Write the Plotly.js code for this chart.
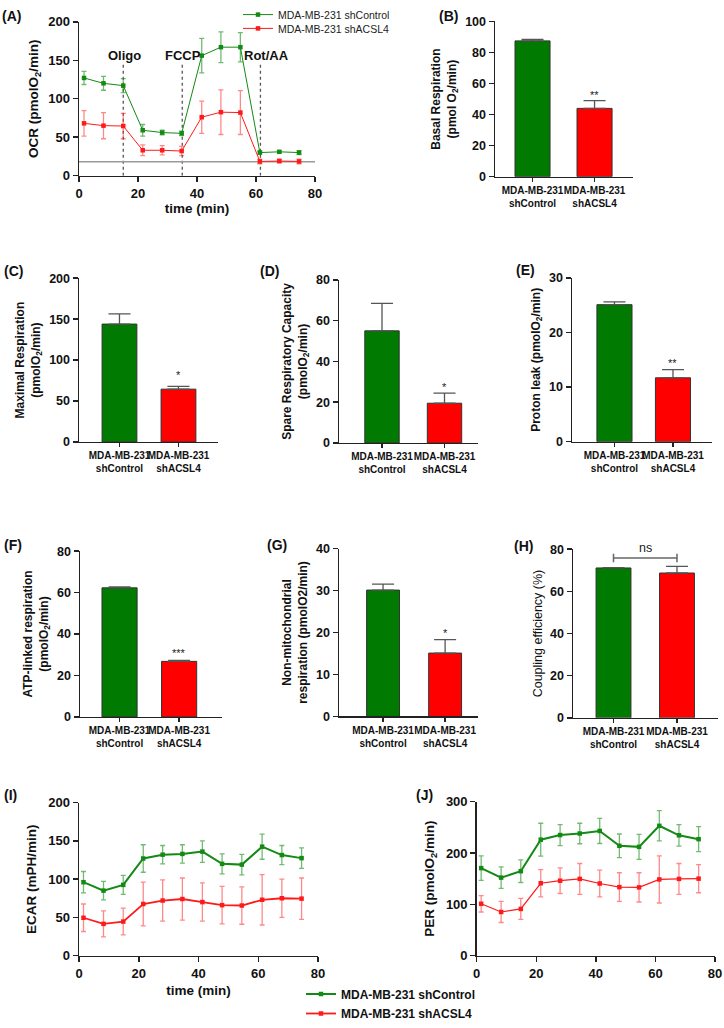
<!DOCTYPE html>
<html>
<head>
<meta charset="utf-8">
<script src="https://cdn.plot.ly/plotly-3.0.1.min.js"></script>
<style>html,body{margin:0;padding:0;background:#fff}#chart{width:724px;height:1028px}</style>
</head>
<body>
<div id="chart"></div>
<script>
// ---------------- DATA ----------------
const seriesNames = ['MDA-MB-231 shControl', 'MDA-MB-231 shACSL4'];
const groups = ['MDA-MB-231<br>shControl', 'MDA-MB-231<br>shACSL4'];

// (A) OCR time course
const timeA = [1.7, 8.3, 15.0, 21.6, 28.2, 34.8, 41.6, 48.1, 54.7, 61.3, 67.9, 74.6];
const ocrCtrl = [127, 120, 117, 59, 56, 55, 156, 167, 167, 30, 31, 30];
const ocrCtrlErr = [8.5, 9, 9, 7.5, 3, 3, 22.5, 20, 19, 2, 1.5, 2.5];
const ocrKd = [68, 65, 64.5, 33, 33, 32, 76, 82.5, 82, 18.5, 19, 18.5];
const ocrKdErr = [16.5, 17, 16.5, 7, 6, 6, 21, 29, 28.5, 3, 2.5, 3];
const injectionTimes = [15, 35, 61.5];
const injectionLabels = ['Oligo', 'FCCP', 'Rot/AA'];
const injectionLabelX = [15.3, 35.2, 63.5];
const baselineOCR = [18];

// (B)-(H) bar summaries
const basal = [87.5, 44], basalErr = [1, 5];
const maximal = [144, 64.5], maximalErr = [12.5, 3.5];
const spare = [55, 19.5], spareErr = [13.5, 5];
const leak = [25.1, 11.7], leakErr = [0.5, 1.5];
const atp = [62.3, 26.8], atpErr = [0.5, 0.5];
const nonmito = [30.1, 15.1], nonmitoErr = [1.4, 3.2];
const coupling = [71.1, 68.7], couplingErr = [0.2, 3.2];
const significance = ['**', '*', '*', '**', '***', '*', 'ns'];

// (I) ECAR and (J) PER time course
const timeIJ = [1.5, 8.2, 14.8, 21.5, 28.0, 34.6, 41.3, 47.9, 54.5, 61.3, 67.9, 74.5];
const ecarCtrl = [96, 85, 92.5, 127, 132, 133, 136, 120, 119, 142.5, 131.5, 127.5];
const ecarCtrlErr = [14, 12, 12.5, 18, 12, 12, 14, 13, 13.5, 16.5, 12.5, 13.5];
const ecarKd = [49.5, 41.5, 44.5, 67.5, 72, 74, 70, 66, 65.5, 73, 75, 74.5];
const ecarKdErr = [18, 17, 17.5, 28.5, 27, 27.5, 25, 24.5, 24.5, 33, 25, 27];
const perCtrl = [170.5, 152, 164.5, 226, 235, 238, 243, 214, 212, 253, 234.5, 227];
const perCtrlErr = [24, 21, 22, 32, 20.5, 20, 24.5, 23, 24.5, 29.5, 21, 24.5];
const perKd = [101, 85, 91, 141, 146, 149.5, 140.5, 133.5, 133, 148.5, 149.5, 150];
const perKdErr = [16, 20.5, 20.5, 26.5, 25, 30, 26, 28, 28.5, 46, 30, 27.5];

// ---------------- STYLE / LAYOUT HELPERS ----------------
const W = 724, H = 1028;
const FONT = 'Liberation Sans, Arial, Helvetica, sans-serif';
const GREEN = '#138a13', RED = '#ff1a1a';
const GREEN_BAR = '#007a00', RED_BAR = '#ff0000';
const GREEN_ERR = 'rgba(20,140,20,0.6)', RED_ERR = 'rgba(255,40,40,0.55)';
const xd = (l, r) => [l / W, r / W];
const yd = (t, b) => [1 - b / H, 1 - t / H];

function baseAxis(extra) {
  return Object.assign({
    showline: true, linecolor: '#222', linewidth: 1.5,
    ticks: 'outside', ticklen: 5, tickwidth: 1.5, tickcolor: '#222',
    showgrid: false, zeroline: false, fixedrange: true,
    tickfont: {family: FONT, size: 13, color: '#111', weight: 'bold'}
  }, extra);
}

function legendAt(xpx, toppx, font) {
  return {x: xpx / W, y: 1 - toppx / H, xanchor: 'left', yanchor: 'top', font: font,
          bgcolor: 'rgba(0,0,0,0)', tracegroupgap: 0, itemwidth: 30};
}
const legFontA = {family: FONT, size: 10.5, color: '#222'};
const legFontB = {family: FONT, size: 12, color: '#111', weight: 'bold'};

const data = [];
const layout = {
  width: W, height: H, margin: {l: 0, r: 0, t: 0, b: 0},
  paper_bgcolor: '#fff', plot_bgcolor: 'rgba(0,0,0,0)',
  showlegend: true, hovermode: false,
  font: {family: FONT, color: '#111'},
  annotations: [], shapes: [],
  legend: legendAt(238, -6, legFontA),
  legend3: legendAt(238, 8, legFontA),
  legend2: legendAt(301, 987, legFontB),
  legend4: legendAt(301, 1007, legFontB)
};

function yTitle(text, size, standoff, weight) {
  return {text: text, standoff: standoff, font: {family: FONT, size: size, color: '#111', weight: weight || 'bold'}};
}

function panelLabel(text, x, y) {
  layout.annotations.push({text: '<b>' + text + '</b>', xref: 'paper', yref: 'paper',
    x: x / W, y: 1 - y / H, xanchor: 'left', yanchor: 'middle', showarrow: false,
    font: {family: FONT, size: 14, color: '#111'}});
}

// ---------- time-course panels ----------
function lineTrace(xs, ys, errs, color, errColor, width, ax, name, legendName, showleg) {
  return {
    type: 'scatter', mode: 'lines+markers', x: xs, y: ys, name: name,
    xaxis: 'x' + ax.x, yaxis: 'y' + ax.y, legend: legendName, showlegend: showleg,
    line: {color: color, width: width},
    marker: {symbol: 'square', size: 4.5, color: color},
    error_y: {type: 'data', array: errs, visible: true, color: errColor, thickness: 1.3, width: 2.5},
    cliponaxis: false
  };
}

// Panel A
data.push(lineTrace(timeA, ocrCtrl, ocrCtrlErr, GREEN, GREEN_ERR, 1, {x: '', y: ''}, seriesNames[0], 'legend', true));
data.push(lineTrace(timeA, ocrKd, ocrKdErr, RED, RED_ERR, 1, {x: '', y: ''}, seriesNames[1], 'legend3', true));
layout.xaxis = baseAxis({domain: xd(79, 315), range: [0, 80], dtick: 20, anchor: 'y',
  title: {text: 'time (min)', standoff: 2, font: {family: FONT, size: 13.5, color: '#111', weight: 'bold'}}});
layout.yaxis = baseAxis({domain: yd(16, 172), range: [0, 200], dtick: 50, anchor: 'x',
  title: yTitle('OCR (pmolO<sub>2</sub>/min)', 13.5, 6)});
injectionTimes.forEach((t, i) => {
  layout.shapes.push({type: 'line', xref: 'x', yref: 'y', x0: t, x1: t, y0: 0, y1: 148,
    line: {color: '#555', width: 1.3, dash: 'dot'}, layer: 'below'});
  layout.annotations.push({text: '<b>' + injectionLabels[i] + '</b>', xref: 'x', yref: 'y',
    x: injectionLabelX[i], y: 156, showarrow: false, xanchor: 'center', yanchor: 'middle',
    font: {family: FONT, size: 13, color: '#111'}});
});
layout.shapes.push({type: 'line', xref: 'x', yref: 'y', x0: 0, x1: 80, y0: baselineOCR[0], y1: baselineOCR[0],
  line: {color: '#9a9a9a', width: 1.6}, layer: 'below'});
panelLabel('(A)', 0, 10);

// Panel I
data.push(lineTrace(timeIJ, ecarCtrl, ecarCtrlErr, GREEN, GREEN_ERR, 2, {x: '9', y: '9'}, seriesNames[0], 'legend2', true));
data.push(lineTrace(timeIJ, ecarKd, ecarKdErr, RED, RED_ERR, 1.8, {x: '9', y: '9'}, seriesNames[1], 'legend4', true));
layout.xaxis9 = baseAxis({domain: xd(79, 318), range: [0, 80], dtick: 20, anchor: 'y9',
  title: {text: 'time (min)', standoff: 6, font: {family: FONT, size: 13.5, color: '#111', weight: 'bold'}}});
layout.yaxis9 = baseAxis({domain: yd(807.7, 962.7), range: [0, 200], dtick: 50, anchor: 'x9',
  title: yTitle('ECAR (mPH/min)', 13.5, 8)});
panelLabel('(I)', 2, 800);

// Panel J
data.push(lineTrace(timeIJ, perCtrl, perCtrlErr, GREEN, GREEN_ERR, 2, {x: '10', y: '10'}, seriesNames[0], 'legend2', false));
data.push(lineTrace(timeIJ, perKd, perKdErr, RED, RED_ERR, 1.2, {x: '10', y: '10'}, seriesNames[1], 'legend4', false));
layout.xaxis10 = baseAxis({domain: xd(476.7, 715), range: [0, 80], dtick: 20, anchor: 'y10'});
layout.yaxis10 = baseAxis({domain: yd(806.7, 962.7), range: [0, 300], dtick: 100, anchor: 'x10',
  title: yTitle('PER (pmolO<sub>2</sub>/min)', 13.5, 8)});
panelLabel('(J)', 414, 800);

// ---------- bar panels ----------
function barPanel(n, vals, errs, px, py, xr, bw, ymax, dtick, title, tsize, standoff, star, starShift, tweight) {
  const xa = 'x' + n, ya = 'y' + n;
  data.push({type: 'bar', x: groups, y: vals, xaxis: xa, yaxis: ya, width: bw, showlegend: false,
    marker: {color: [GREEN_BAR, RED_BAR], line: {color: '#333', width: 1}},
    error_y: {type: 'data', symmetric: false, array: errs, arrayminus: [0, 0], visible: true,
      color: '#555', thickness: 1.3, width: 11}});
  layout['xaxis' + n] = baseAxis({domain: xd(px[0], px[1]), range: xr, anchor: ya, type: 'category',
    tickangle: 0, ticklen: 4,
    tickfont: {family: FONT, size: 10, color: '#111', weight: 'bold'}});
  layout['yaxis' + n] = baseAxis({domain: yd(py[0], py[1]), range: [0, ymax], dtick: dtick, anchor: xa,
    tickfont: {family: FONT, size: 12.5, color: '#111', weight: 'bold'},
    title: yTitle(title, tsize, standoff, tweight)});
  if (star) {
    layout.annotations.push({text: star, xref: xa, yref: ya, x: groups[1], y: vals[1] + errs[1],
      yshift: starShift, showarrow: false, xanchor: 'center', yanchor: 'bottom',
      font: {family: FONT, size: 11, color: '#222'}});
  }
}

barPanel(2, basal, basalErr, [495, 633], [15.7, 173], [-0.605, 1.62], 0.565, 100, 20,
  'Basal Respiration<br>(pmol O<sub>2</sub>/min)', 12, 6, significance[0], -2);
panelLabel('(B)', 437, 10);

barPanel(3, maximal, maximalErr, [79, 218], [276, 442], [-0.686, 1.67], 0.59, 200, 50,
  'Maximal Respiration<br>(pmolO<sub>2</sub>/min)', 12, 6, significance[1], 3);
panelLabel('(C)', 2, 269);

barPanel(4, spare, spareErr, [339, 478], [277.7, 443], [-0.688, 1.536], 0.55, 80, 20,
  'Spare Respiratory Capacity<br>(pmolO<sub>2</sub>/min)', 12, 6, significance[2], -2);
panelLabel('(D)', 258, 269);

barPanel(5, leak, leakErr, [572, 712], [275.7, 441.7], [-0.726, 1.667], 0.6, 30, 10,
  'Proton leak (pmolO<sub>2</sub>/min)', 12, 6, significance[3], -1);
panelLabel('(E)', 514, 268);

barPanel(6, atp, atpErr, [80, 222], [552.7, 720.7], [-0.664, 1.72], 0.59, 80, 20,
  'ATP-linked respiration<br>(pmolO<sub>2</sub>/min)', 12, 6, significance[4], -1);
panelLabel('(F)', 2, 546);

barPanel(7, nonmito, nonmitoErr, [339, 478], [550, 720.3], [-0.71, 1.53], 0.53, 40, 10,
  'Non-mitochondrial<br>respiration (pmolO2/min)', 12, 6, significance[5], -1);
panelLabel('(G)', 265, 546);

barPanel(8, coupling, couplingErr, [573, 718], [550.7, 721.7], [-0.638, 1.646], 0.55, 80, 20,
  'Coupling efficiency (%)', 12.5, 4, null, 0, 'normal');
panelLabel('(H)', 512, 547);
// ns bracket for (H)
layout.shapes.push({type: 'line', xref: 'x8', yref: 'y8', x0: groups[0], x1: groups[1], y0: 75.8, y1: 75.8,
  line: {color: '#666', width: 1.5}});
layout.shapes.push({type: 'line', xref: 'x8', yref: 'y8', x0: groups[0], x1: groups[0], y0: 73.8, y1: 77.8,
  line: {color: '#666', width: 1.5}});
layout.shapes.push({type: 'line', xref: 'x8', yref: 'y8', x0: groups[1], x1: groups[1], y0: 73.8, y1: 77.8,
  line: {color: '#666', width: 1.5}});
layout.annotations.push({text: significance[6], xref: 'paper', yref: 'y8', x: 645 / W, y: 75.8,
  yshift: 1, showarrow: false, xanchor: 'center', yanchor: 'bottom',
  font: {family: FONT, size: 12.5, color: '#222'}});

Plotly.newPlot('chart', data, layout, {staticPlot: true, displayModeBar: false});
</script>
</body>
</html>
